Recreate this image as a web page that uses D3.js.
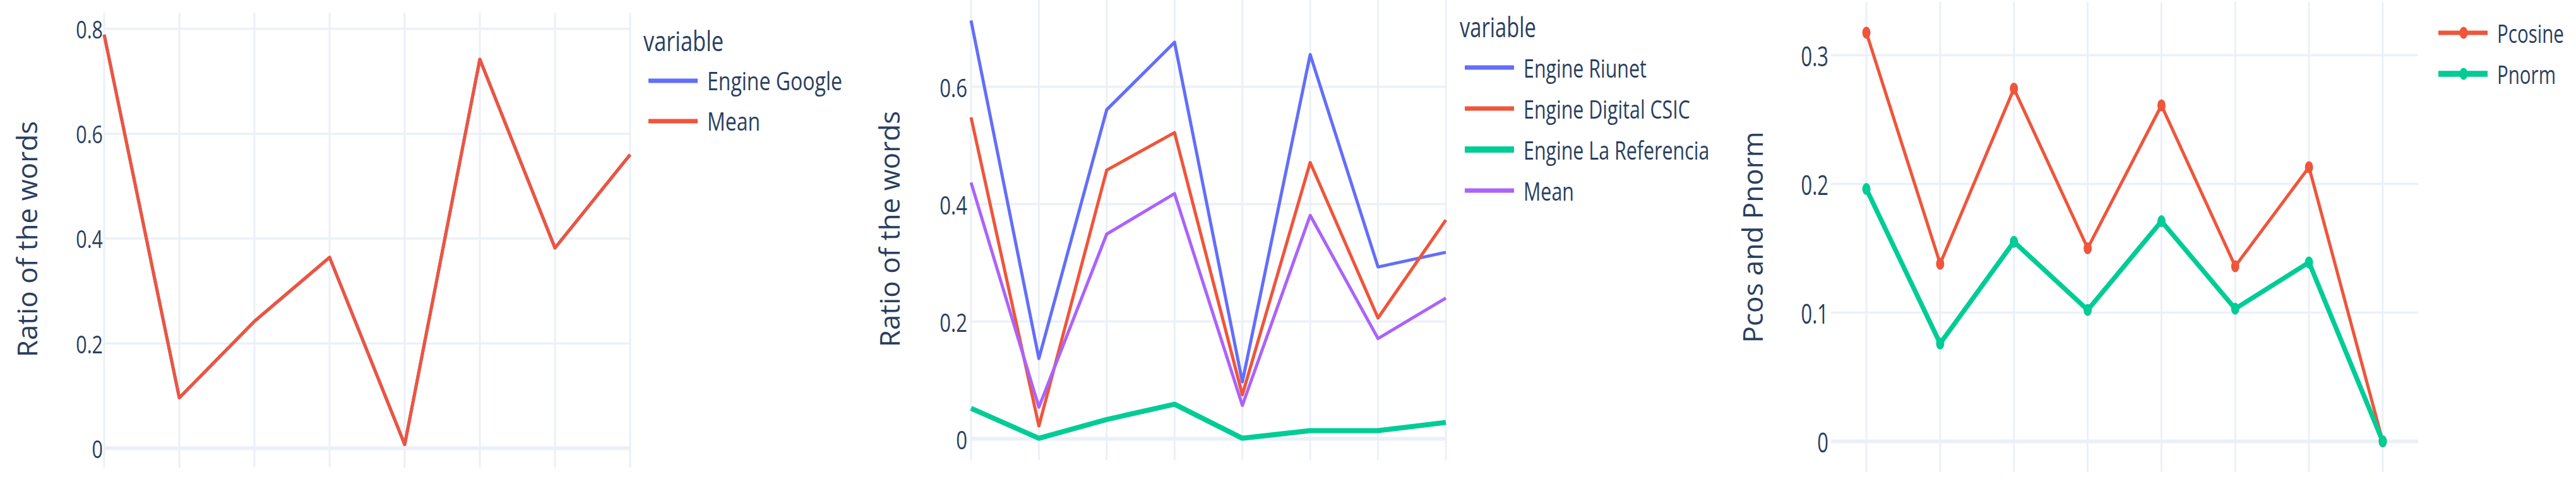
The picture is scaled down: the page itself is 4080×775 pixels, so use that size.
<!DOCTYPE html>
<html lang="en">
<head>
<meta charset="UTF-8">
<script src="https://d3js.org/d3.v7.min.js"></script>
<title>Ratios</title>
<style>
  body { margin: 0; background: #fff; }
  text { font-family: "Open Sans", sans-serif; fill: #2a3f5f; }
</style>
</head>
<body>
<script>
  // 8 queries on the x axis (labels not shown in the picture)
  const steps = [0, 1, 2, 3, 4, 5, 6, 7]

  // chart 1 : one engine, so the mean hides it
  const engineGoogle = [0.789, 0.096, 0.242, 0.364, 0.007, 0.742, 0.382, 0.560]
  const meanGoogle   = [0.789, 0.096, 0.242, 0.364, 0.007, 0.742, 0.382, 0.560]
  const ticks1 = [0, 0.2, 0.4, 0.6, 0.8]

  // chart 2
  const engineRiunet = [0.713, 0.137, 0.561, 0.676, 0.097, 0.655, 0.293, 0.318]
  const engineCsic   = [0.548, 0.022, 0.458, 0.522, 0.075, 0.471, 0.206, 0.373]
  const engineLaRef  = [0.052, 0.001, 0.033, 0.059, 0.001, 0.014, 0.014, 0.028]
  const meanThree    = [0.437, 0.054, 0.349, 0.418, 0.057, 0.381, 0.171, 0.240]
  const ticks2 = [0, 0.2, 0.4, 0.6]

  // chart 3
  const pcosine = [0.3175, 0.138, 0.274, 0.150, 0.261, 0.136, 0.213, 0]
  const pnorm   = [0.196, 0.076, 0.155, 0.102, 0.171, 0.103, 0.139, 0]
  const ticks3 = [0, 0.1, 0.2, 0.3]

  const BLUE = "#636efa", RED = "#ef553b", GREEN = "#00cc96", PURPLE = "#ab63fa"
  const GRID = "#ebf0f8"

  let svg = d3.select("body").append("svg")
              .attr("width", 4080)
              .attr("height", 775)

  /*
    text squeezed on x like the picture
  */
  function addText(g, x, y, str, size, sx, anchor, rot) {
    return g.append("text")
            .attr("transform", `translate(${x},${y}) scale(${sx},1)` + (rot ? " rotate(-90)" : ""))
            .attr("text-anchor", anchor)
            .attr("dominant-baseline", "central")
            .style("font-size", size + "px")
            .text(str)
  }

  function fmt(d) { return d === 0 ? "0" : d3.format(".1f")(d) }

  /*
    one panel
  */
  function drawPanel(p) {
    let g = svg.append("g")
    let x = d3.scaleLinear().domain(p.xDom).range(p.xPx)
    let y = d3.scaleLinear().domain(p.yDom).range(p.yPx)

    // vertical grid
    g.selectAll(".vg").data(steps).enter().append("line")
      .attr("x1", d => x(d)).attr("x2", d => x(d))
      .attr("y1", p.yPx[0]).attr("y2", p.yPx[1])
      .attr("stroke", GRID).attr("stroke-width", 3)

    // horizontal grid
    g.selectAll(".hg").data(p.ticks).enter().append("line")
      .attr("x1", p.xPx[0]).attr("x2", p.xPx[1])
      .attr("y1", d => y(d)).attr("y2", d => y(d))
      .attr("stroke", GRID).attr("stroke-width", d => d === 0 ? 6 : 3.5)

    // y axis labels
    let ax = g.append("g").attr("transform", `translate(${p.labelX},0)`)
              .call(d3.axisLeft(y).tickValues(p.ticks).tickFormat(fmt).tickSize(0).tickPadding(0))
    ax.select(".domain").remove()
    ax.selectAll("text")
      .attr("x", null).attr("dy", null)
      .attr("fill", "#2a3f5f")
      .attr("dominant-baseline", "central")
      .attr("transform", `scale(${p.sx},1)`)
      .style("font-family", "Open Sans, sans-serif")
      .style("font-size", p.tickSize + "px")

    // axis title
    addText(g, p.titleX, p.titleY, p.title, 44, 1, "middle", true)

    // lines
    let line = d3.line().x((d, i) => x(steps[i])).y(d => y(d))
    p.series.forEach(function(s) {
      g.append("path")
        .attr("d", line(s.values))
        .attr("fill", "none")
        .attr("stroke", s.color)
        .attr("stroke-width", s.width)
        .attr("stroke-linejoin", "round")
      if (p.markers) {
        g.selectAll(null).data(s.values).enter().append("ellipse")
          .attr("cx", (d, i) => x(steps[i]))
          .attr("cy", d => y(d))
          .attr("rx", 9 * p.sx).attr("ry", 9.5)
          .attr("fill", s.color)
      }
    })

    // legend
    if (p.legendTitle) addText(g, p.legend.x - 8, p.legend.titleY, p.legendTitle, 43, p.sx, "start")
    p.series.forEach(function(s, i) {
      let ly = p.legend.y0 + i * p.legend.dy
      g.append("line")
        .attr("x1", p.legend.x).attr("x2", p.legend.x + 78)
        .attr("y1", ly).attr("y2", ly)
        .attr("stroke", s.color).attr("stroke-width", Math.max(s.width + 2, 7))
      if (p.markers) {
        g.append("ellipse").attr("cx", p.legend.x + 40).attr("cy", ly)
          .attr("rx", 9 * p.sx).attr("ry", 9.5).attr("fill", s.color)
      }
      addText(g, p.legend.x + 93, ly, s.name, p.legendSize, p.sx, "start")
    })
  }

  drawPanel({
    xDom: [0, 7], xPx: [165, 998],
    yDom: [-0.037, 0.831], yPx: [741, 20],
    ticks: ticks1, labelX: 163, tickSize: 38, sx: 0.8,
    title: "Ratio of the words", titleX: 42, titleY: 379,
    series: [
      { name: "Engine Google", values: engineGoogle, color: BLUE, width: 5 },
      { name: "Mean", values: meanGoogle, color: RED, width: 5 }
    ],
    legendTitle: "variable", legendSize: 40,
    legend: { x: 1027, titleY: 64, y0: 128, dy: 64 }
  })

  drawPanel({
    xDom: [0, 7], xPx: [1538, 2290],
    yDom: [-0.036, 0.748], yPx: [729, 0],
    ticks: ticks2, labelX: 1532, tickSize: 41, sx: 0.76,
    title: "Ratio of the words", titleX: 1408, titleY: 363,
    series: [
      { name: "Engine Riunet", values: engineRiunet, color: BLUE, width: 5 },
      { name: "Engine Digital CSIC", values: engineCsic, color: RED, width: 5 },
      { name: "Engine La Referencia", values: engineLaRef, color: GREEN, width: 8 },
      { name: "Mean", values: meanThree, color: PURPLE, width: 5 }
    ],
    legendTitle: "variable", legendSize: 40,
    legend: { x: 2320, titleY: 42, y0: 107, dy: 65 }
  })

  drawPanel({
    xDom: [-0.48, 7.48], xPx: [2900, 3830],
    yDom: [-0.0238, 0.3414], yPx: [748, 3],
    ticks: ticks3, labelX: 2896, tickSize: 43, sx: 0.72,
    title: "Pcos and Pnorm", titleX: 2775, titleY: 376,
    markers: true,
    series: [
      { name: "Pcosine", values: pcosine, color: RED, width: 5 },
      { name: "Pnorm", values: pnorm, color: GREEN, width: 7.5 }
    ],
    legendSize: 41,
    legend: { x: 3862, y0: 52, dy: 65 }
  })
</script>
</body>
</html>
